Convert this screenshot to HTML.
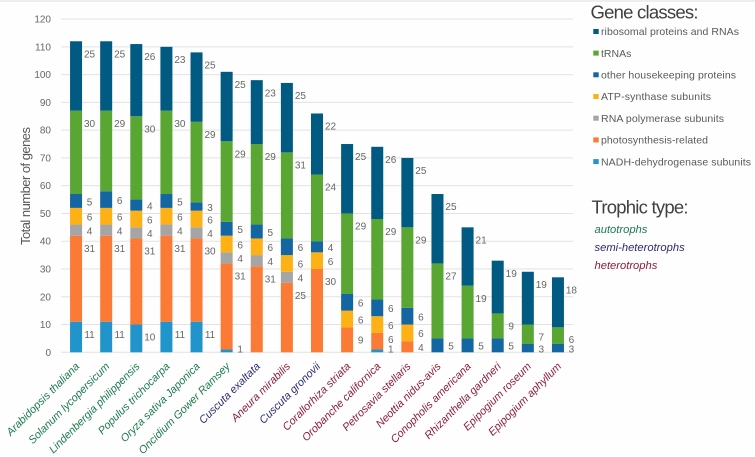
<!DOCTYPE html>
<html>
<head>
<meta charset="utf-8">
<style>
html,body{margin:0;padding:0;background:#fefefe;}
#wrap{position:relative;width:755px;height:457px;overflow:hidden;}
svg{display:block;font-family:"Liberation Sans",sans-serif;filter:blur(0.35px);}
</style>
</head>
<body>
<div id="wrap">
<svg id="chart" width="755" height="457" viewBox="0 0 755 457">
  <rect x="0" y="0" width="755" height="457" fill="#fefefe"/>
  <rect x="0" y="0" width="755" height="2" fill="#eeeeee"/>
  <g id="grid"></g>
  <g id="yticks"></g>
  <g id="bars"></g>
  <g id="vals"></g>
  <g id="cats"></g>
  <text transform="translate(30,186) rotate(-90)" text-anchor="middle" font-size="13" fill="#595959" textLength="118">Total number of genes</text>

  <g>
    <text x="590.5" y="18.5" font-size="18.5" fill="#404040" textLength="108">Gene classes:</text>
    <g><rect x="593.3" y="29" width="5.4" height="5" fill="#005a82"/><text x="601" y="35" font-size="10.5" fill="#595959" textLength="138">ribosomal proteins and RNAs</text></g>
    <g><rect x="593.3" y="50.6" width="5.4" height="5" fill="#5aa632"/><text x="601" y="56.8" font-size="10.5" fill="#595959">tRNAs</text></g>
    <g><rect x="593.3" y="72.3" width="5.4" height="5" fill="#1366a2"/><text x="601" y="78.5" font-size="10.5" fill="#595959" textLength="135">other housekeeping proteins</text></g>
    <g><rect x="593.3" y="94" width="5.4" height="5" fill="#fdb114"/><text x="601" y="100.2" font-size="10.5" fill="#595959" textLength="110">ATP-synthase subunits</text></g>
    <g><rect x="593.3" y="115.7" width="5.4" height="5" fill="#a5a5a5"/><text x="601" y="121.9" font-size="10.5" fill="#595959" textLength="123">RNA polymerase subunits</text></g>
    <g><rect x="593.3" y="137.4" width="5.4" height="5" fill="#fb7a35"/><text x="601" y="143.6" font-size="10.5" fill="#595959" textLength="107">photosynthesis-related</text></g>
    <g><rect x="593.3" y="159.1" width="5.4" height="5" fill="#2195cb"/><text x="601" y="165.3" font-size="10.5" fill="#595959" textLength="150">NADH-dehydrogenase subunits</text></g>
  </g>

  <g>
    <text x="591.5" y="213.5" font-size="18.5" fill="#404040" textLength="97">Trophic type:</text>
    <text x="594.5" y="233" font-size="11.2" font-style="italic" fill="#1a7a4c">autotrophs</text>
    <text x="594.5" y="251" font-size="11.2" font-style="italic" fill="#2b2a72">semi-heterotrophs</text>
    <text x="594.5" y="269" font-size="11.2" font-style="italic" fill="#8c1c3c">heterotrophs</text>
  </g>
</svg>
</div>
<script>
const species = ["Arabidopsis thaliana","Solanum lycopersicum","Lindenbergia philippensis","Populus trichocarpa","Oryza sativa Japonica","Oncidium Gower Ramsey","Cuscuta exaltata","Aneura mirabilis","Cuscuta gronovii","Corallorhiza striata","Orobanche californica","Petrosavia stellaris","Neottia nidus-avis","Conopholis americana","Rhizanthella gardneri","Epipogium roseum","Epipogium aphyllum"];
const trophic = ["auto","auto","auto","auto","auto","auto","semi","hetero","semi","hetero","hetero","hetero","hetero","hetero","hetero","hetero","hetero"];
const nadh = [11,11,10,11,11,1,0,0,0,0,1,0,0,0,0,0,0];
const photosynthesis = [31,31,31,31,30,31,31,25,30,9,6,4,0,0,0,0,0];
const rnaPolymerase = [4,4,4,4,4,4,4,4,0,0,0,0,0,0,0,0,0];
const atpSynthase = [6,6,6,6,6,6,6,6,6,6,6,6,0,0,0,0,0];
const housekeeping = [5,6,4,5,3,5,5,6,4,6,6,6,5,5,5,3,3];
const trnas = [30,29,30,30,29,29,29,31,24,29,29,29,27,19,9,7,6];
const ribosomal = [25,25,26,23,25,25,23,25,22,25,26,25,25,21,19,19,18];
const yTicks = [0,10,20,30,40,50,60,70,80,90,100,110,120];

const NS = "http://www.w3.org/2000/svg";
const plotLeft = 61, plotRight = 573, y0 = 352.3, unit = 2.777, barW = 12;
const y = v => y0 - v * unit;
const step = (plotRight - plotLeft) / species.length;
const xc = i => plotLeft + step * (i + 0.5);
const trophicColor = {auto:"#1a7a4c", semi:"#2b2a72", hetero:"#8c1c3c"};
const stack = [
  {key:"nadh", values:nadh, color:"#2195cb"},
  {key:"photosynthesis", values:photosynthesis, color:"#fb7a35"},
  {key:"rna-polymerase", values:rnaPolymerase, color:"#a5a5a5"},
  {key:"atp-synthase", values:atpSynthase, color:"#fdb114"},
  {key:"housekeeping", values:housekeeping, color:"#1366a2"},
  {key:"trnas", values:trnas, color:"#5aa632"},
  {key:"ribosomal", values:ribosomal, color:"#005a82"}
];
function mk(tag, attrs, parent, txt){
  const el = document.createElementNS(NS, tag);
  for (const k in attrs) el.setAttribute(k, attrs[k]);
  if (txt !== undefined) el.textContent = txt;
  parent.appendChild(el);
  return el;
}
const gGrid = document.getElementById("grid");
const gTicks = document.getElementById("yticks");
const gBars = document.getElementById("bars");
const gVals = document.getElementById("vals");
const gCats = document.getElementById("cats");

yTicks.forEach(t => {
  const line = mk("line", {x1:plotLeft, x2:plotRight, y1:y(t), y2:y(t), stroke:"#e2e2e2", "stroke-width":1}, gGrid);
  
  
  const lab = mk("text", {x:51, y:y(t)+3.5, "text-anchor":"end", "font-size":10, fill:"#666666"}, gTicks, t);
  
  
});

species.forEach((name, i) => {
  let base = 0;
  let lastLabelY = 349 + 9.5;
  stack.forEach(s => {
    const v = s.values[i];
    if (v > 0) {
      const top = base + v;
      const rect = mk("rect", {x:xc(i)-barW/2, y:y(top), width:barW, height:v*unit, fill:s.color}, gBars);
      
      
      const h = v * unit;
      const off = s.key === "trnas" ? 12.6 : Math.min(12.6, h/2 + 0.8);
      const ly = Math.min(lastLabelY - 9.5, y(top) + off);
      lastLabelY = ly;
      const lab = mk("text", {x:xc(i)+barW/2+7.5, y:ly+3.5, "text-anchor":"middle", "font-size":10, fill:"#666666"}, gVals, v);
      
      
      base = top;
    }
  });
  const cx = xc(i) + 4, cy = 367;
  const cat = mk("text", {transform:"translate("+cx+","+cy+") rotate(-45)", "text-anchor":"end", "font-size":10.9, "font-style":"italic", fill:trophicColor[trophic[i]]}, gCats, name);
  
  
});
</script>
</body>
</html>
